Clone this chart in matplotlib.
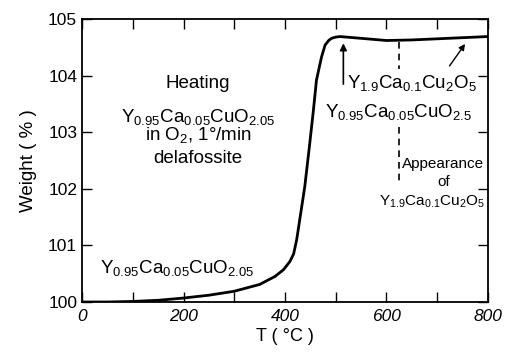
import numpy as np
import matplotlib
matplotlib.use("Agg")
import matplotlib.pyplot as plt

plt.rcParams['font.family'] = ['Liberation Sans', 'DejaVu Sans']
plt.rcParams['mathtext.fontset'] = 'custom'
plt.rcParams['mathtext.rm'] = 'Liberation Sans'
plt.rcParams['mathtext.it'] = 'Liberation Sans:italic'

# Curva TGA
temp = [0, 50, 100, 150, 200, 250, 300, 350, 380, 397, 410, 417, 423, 430,
        439, 448, 456, 462, 472, 479, 486, 492, 500, 508, 548, 600, 650,
        700, 750, 800]
weight = [100.0, 100.0, 100.01, 100.03, 100.07, 100.12, 100.19, 100.31,
          100.45, 100.57, 100.72, 100.85, 101.1, 101.51, 102.04, 102.74,
          103.39, 103.92, 104.33, 104.54, 104.62, 104.66, 104.68, 104.69,
          104.66, 104.62, 104.63, 104.65, 104.67, 104.69]

x_ticks = [0, 200, 400, 600, 800]
y_ticks = [100, 101, 102, 103, 104, 105]

fig = plt.figure(figsize=(5.06, 3.59), dpi=100)
ax = fig.add_axes([82 / 506, 1 - 302 / 359, 406 / 506, 283 / 359])

ax.plot(temp, weight, color='black', lw=2.0, solid_joinstyle='round')

ax.set_xlim(0, 800)
ax.set_ylim(100, 105)
ax.set_xticks(x_ticks)
ax.set_xticks(range(100, 800, 200), minor=True)
ax.set_yticks(y_ticks)
ax.set_xticklabels([str(t) for t in x_ticks], fontsize=12.5, style='italic')
ax.set_yticklabels([str(t) for t in y_ticks], fontsize=12.5)
ax.tick_params(which='both', direction='in', top=True, right=True, length=7, width=1)
ax.tick_params(axis='x', pad=5)
for s in ax.spines.values():
    s.set_linewidth(1.3)

ax.set_xlabel('T ( °C )', fontsize=13, labelpad=3)
ax.set_ylabel('Weight ( % )', fontsize=13.5, labelpad=8)

# Textos (posición por línea base)
fs = 13.5
kw = dict(ha='center', va='baseline', fontsize=fs)
ax.text(229, 103.78, 'Heating', **kw)
ax.text(229, 103.18, r'Y$_{0.95}$Ca$_{0.05}$CuO$_{2.05}$', **kw)
ax.text(229, 102.86, r'in O$_2$, 1°/min', **kw)
ax.text(229, 102.46, 'delafossite', **kw)
ax.text(187, 100.51, r'Y$_{0.95}$Ca$_{0.05}$CuO$_{2.05}$', **kw)
ax.text(650, 103.78, r'Y$_{1.9}$Ca$_{0.1}$Cu$_2$O$_5$', **kw)
ax.text(623, 103.27, r'Y$_{0.95}$Ca$_{0.05}$CuO$_{2.5}$', **kw)
kw_s = dict(ha='center', va='baseline', fontsize=11)
ax.text(712, 102.37, 'Appearance', **kw_s)
ax.text(712, 102.05, 'of', **kw_s)
ax.text(690, 101.70, r'Y$_{1.9}$Ca$_{0.1}$Cu$_2$O$_5$', **kw_s)

# Línea discontinua
ax.plot([625, 625], [104.6, 104.12], color='black', lw=1.2, ls=(0, (4, 3)))
ax.plot([625, 625], [103.1, 102.1], color='black', lw=1.2, ls=(0, (4, 3)))

# Flechas
ax.annotate('', xy=(515, 104.62), xytext=(515, 103.8),
            arrowprops=dict(arrowstyle='-|>', color='black', lw=1.2, mutation_scale=10))
ax.annotate('', xy=(758, 104.6), xytext=(721, 104.13),
            arrowprops=dict(arrowstyle='-|>', color='black', lw=1.0, mutation_scale=9))

fig.savefig('out.png', dpi=100)
